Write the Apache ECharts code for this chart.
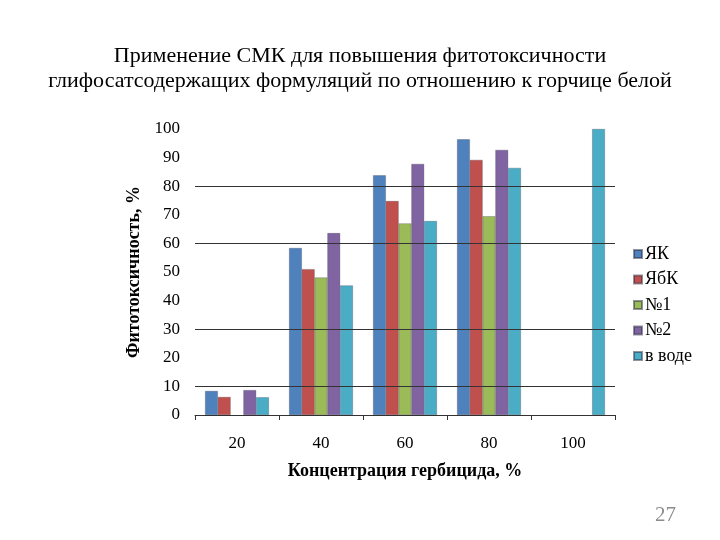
<!DOCTYPE html>
<html><head><meta charset="utf-8">
<script src="https://cdn.jsdelivr.net/npm/echarts@6/dist/echarts.min.js"></script>
<style>html,body{margin:0;padding:0;background:#fff}#c{width:720px;height:540px}</style>
</head><body><div id="c"></div>
<script>
const categories = ['20', '40', '60', '80', '100'];
const seriesNames = ['ЯК', 'ЯбК', '№1', '№2', 'в воде'];
const yak = [8.4, 58.4, 83.8, 96.4, null];
const yabk = [6.3, 51.0, 74.8, 89.2, null];
const n1 = [null, 48.1, 67.0, 69.5, null];
const n2 = [8.7, 63.6, 87.8, 92.7, null];
const vVode = [6.2, 45.3, 67.8, 86.4, 100];
const gridValues = [10, 30, 60, 80];
const colors = ['#4F81BD', '#C0504D', '#9BBB59', '#8064A2', '#4BACC6'];
const titleText = 'Применение СМК для повышения фитотоксичности\nглифосатсодержащих формуляций по отношению к горчице белой';
const yName = 'Фитотоксичность, %';
const xName = 'Концентрация гербицида, %';
const pageNum = '27';

const F = '"Liberation Serif", "Times New Roman", serif';
const values = [yak, yabk, n1, n2, vVode];
const chart = echarts.init(document.getElementById('c'));
const series = values.map((d, i) => ({
  name: seriesNames[i], type: 'bar', data: d, z: 3,
  barGap: '0%', barCategoryGap: '24%',
  itemStyle: { color: colors[i], borderColor: 'rgba(40,40,60,0.5)', borderWidth: 0.5 }
}));
series.push({
  type: 'line', data: [], z: 1, silent: true,
  markLine: {
    silent: true, symbol: 'none', label: { show: false },
    lineStyle: { color: '#333', width: 1, type: 'solid' },
    data: gridValues.map(v => ({ yAxis: v }))
  }
});
chart.setOption({
  animation: false,
  color: colors,
  textStyle: { fontFamily: F, color: '#000' },
  title: {
    text: titleText, left: 'center', top: 39,
    textStyle: { fontFamily: F, fontSize: 22, fontWeight: 'normal', color: '#000', lineHeight: 25 }
  },
  legend: {
    orient: 'vertical', left: 628, top: 240, itemGap: 7.5,
    itemWidth: 8, itemHeight: 8, icon: 'rect',
    data: seriesNames,
    textStyle: { fontFamily: F, fontSize: 18, color: '#000', padding: [0, 0, 0, -2] }
  },
  grid: { left: 195, right: 105, top: 129, bottom: 125 },
  xAxis: {
    type: 'category', data: categories,
    name: xName, nameLocation: 'middle', nameGap: 47,
    nameTextStyle: { fontFamily: F, fontSize: 18, fontWeight: 'bold', color: '#000' },
    axisLine: { lineStyle: { color: '#333', width: 1 } },
    axisTick: { show: true, length: 5, lineStyle: { color: '#333' } },
    axisLabel: { fontFamily: F, fontSize: 17, color: '#000', margin: 20 }
  },
  yAxis: {
    type: 'value', min: 0, max: 100, interval: 10,
    name: yName, nameLocation: 'middle', nameGap: 48,
    nameTextStyle: { fontFamily: F, fontSize: 18, fontWeight: 'bold', color: '#000' },
    axisLine: { show: false }, axisTick: { show: false },
    splitLine: { show: false },
    axisLabel: { fontFamily: F, fontSize: 17, color: '#000', margin: 15 }
  },
  graphic: [{
    type: 'text', left: 655, top: 505,
    style: { text: pageNum, fontFamily: F, fontSize: 21, fill: '#8c8c8c' }
  }],
  series: series
});
</script></body></html>
